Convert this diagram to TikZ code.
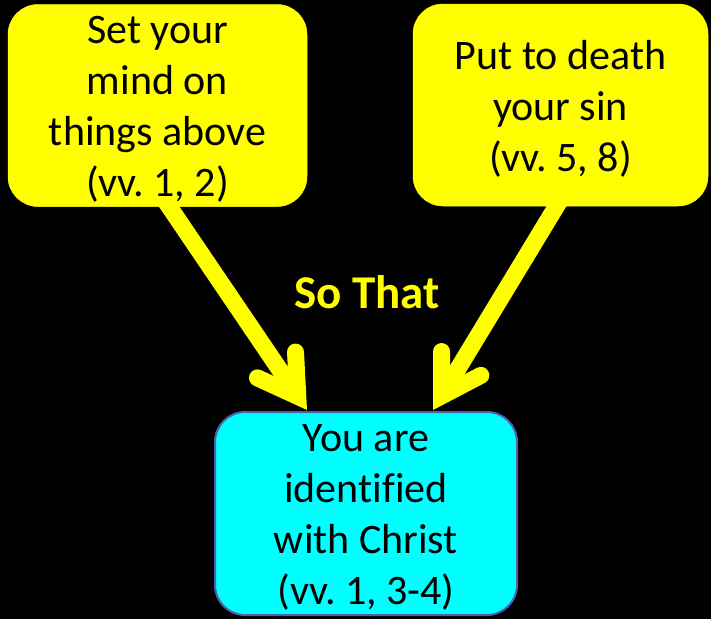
\documentclass[tikz,border=0pt]{standalone}
\usepackage{fontspec}
\setmainfont{Carlito}[Ligatures=NoCommon]
\usetikzlibrary{arrows.meta,calc,backgrounds}
\definecolor{boxyellow}{RGB}{255,255,0}
\definecolor{boxcyan}{RGB}{0,255,255}
\definecolor{cyanedge}{RGB}{80,96,176}
\frenchspacing
\tikzset{
  ybox/.style={rectangle, rounded corners=30pt, fill=boxyellow, draw=boxyellow, line width=0.5pt,
    minimum width=#1, minimum height=202pt, inner sep=0pt},
  cbox/.style={rectangle, rounded corners=30pt, fill=boxcyan, draw=cyanedge, line width=2pt,
    minimum width=302pt, minimum height=203pt, inner sep=0pt},
  btext/.style={align=center, inner sep=0pt, font=\fontsize{42}{51}\selectfont, text=black},
  yarrow/.style={draw=boxyellow, line width=17pt,
    -{Straight Barb[length=38pt, width=46pt, line cap=round, line join=miter]}},
  sothat/.style={font=\bfseries\fontsize{47}{50}\selectfont, text=boxyellow}
}
\begin{document}
\frenchspacing
\begin{tikzpicture}[x=1pt, y=-1pt]
\begin{scope}[on background layer]
\fill[black] (0,0) rectangle (711,619);
\end{scope}
\useasboundingbox (0,0) rectangle (711,619);
\node[ybox=299pt] (L) at (157.5,105.5) {};
\node[ybox=295pt] (R) at (560.5,105) {};
\node[cbox] (C) at (366,513.5) {};
\node[btext] (Lt) at ($(L.center)+(0,4)$) {Set your\\mind on\\things above\\(vv. 1, 2)};
\node[btext] (Rt) at ($(R.center)+(0,4)$) {Put to death\\your sin\\(vv. 5, 8)};
\node[btext] (Ct) at ($(C.center)+(0,4)$) {You are\\identified\\with Christ\\(vv. 1, 3-4)};
\node[sothat] (S) at (367,292) {So That};
\begin{scope}[on background layer]
\draw[yarrow] ($(L.south)+(5,-10)$) -- ($(C.north)+(-59,-1)$);
\draw[yarrow] ($(R.south)+(2,-10)$) -- ($(C.north)+(67,-1)$);
\end{scope}
\end{tikzpicture}
\end{document}
